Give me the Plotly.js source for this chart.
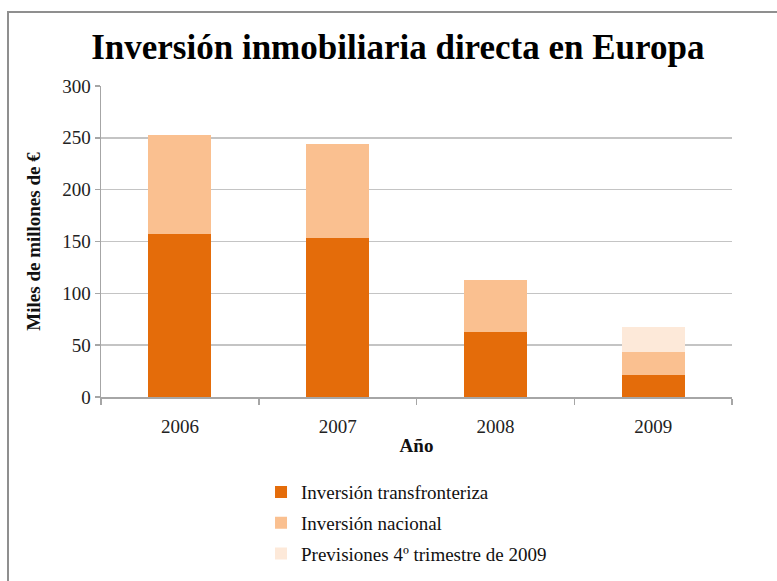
<!DOCTYPE html>
<html>
<head>
<meta charset="utf-8">
<script src="https://cdn.plot.ly/plotly-3.0.1.min.js"></script>
<style>
  html, body { margin: 0; padding: 0; background: #fff; }
  #frame { position: absolute; left: 7px; top: 11px; width: 780px; height: 580px;
           border-left: 2px solid #8f8f8f; border-top: 2px solid #8f8f8f; box-sizing: border-box; }
  #chart { position: absolute; left: 0; top: 0; width: 777px; height: 581px; }
</style>
</head>
<body>
<div id="frame"></div>
<div id="chart"></div>
<script>
const years = ["2006", "2007", "2008", "2009"];
const transfronteriza = [157, 153, 63, 21.5];
const nacional = [96, 91, 50, 22];
const previsiones = [0, 0, 0, 24.5];
const seriesNames = ["Inversión transfronteriza", "Inversión nacional", "Previsiones 4º trimestre de 2009"];
const colors = ["#E46C0A", "#FAC090", "#FDE9D9"];
const yTicks = [0, 50, 100, 150, 200, 250, 300];

const serif = "Liberation Serif, DejaVu Serif, serif";
const seriesValues = [transfronteriza, nacional, previsiones];
const traces = seriesValues.map((vals, i) => ({
  type: "bar",
  name: seriesNames[i],
  x: years,
  y: vals,
  legendgroup: "g" + i,
  marker: { color: colors[i], line: { width: 0 } },
  hoverinfo: "x+y+name"
}));

const layout = {
  width: 777, height: 581,
  paper_bgcolor: "rgba(0,0,0,0)",
  plot_bgcolor: "rgba(0,0,0,0)",
  margin: { l: 101, r: 45, t: 86, b: 184, autoexpand: false },
  barmode: "stack",
  bargap: 0.6,
  font: { family: serif, size: 18, color: "#111" },
  title: {
    text: "<b>Inversión inmobiliaria directa en Europa</b>",
    font: { family: serif, size: 35, color: "#000" },
    x: 0.512, xanchor: "center", xref: "container",
    y: 0.919, yanchor: "middle", yref: "container"
  },
  xaxis: {
    type: "category",
    automargin: false,
    showgrid: false,
    showline: true, linecolor: "#a6a6a6", linewidth: 1.5,
    ticks: "outside", tickson: "boundaries", ticklen: 6, tickcolor: "#a6a6a6", tickwidth: 1.5,
    ticklabelstandoff: 12,
    tickfont: { family: serif, size: 19, color: "#222" },
    tickangle: 0,
    title: { text: "<b>Año</b>", font: { family: serif, size: 19, color: "#111" }, standoff: 2 }
  },
  yaxis: {
    range: [0, 300],
    automargin: false,
    tickvals: yTicks,
    ticksuffix: "\u00a0\u00a0\u00a0",
    showgrid: true, gridcolor: "#c4c4c4", gridwidth: 1.5,
    showline: true, linecolor: "#a6a6a6", linewidth: 1.5,
    zeroline: false,
    ticks: "outside", ticklen: 5, tickcolor: "#a6a6a6", tickwidth: 1.5,
    tickfont: { family: serif, size: 19, color: "#222" },
    title: { text: "<b>Miles de millones de €</b>", font: { family: serif, size: 19, color: "#111" }, standoff: 16 }
  },
  showlegend: true,
  legend: {
    orientation: "v",
    traceorder: "grouped",
    tracegroupgap: 3,
    x: 0.2536, xanchor: "left",
    y: -0.245, yanchor: "top",
    font: { family: serif, size: 19, color: "#111" },
    itemwidth: 30,
    bgcolor: "rgba(0,0,0,0)"
  }
};

Plotly.newPlot("chart", traces, layout, { displayModeBar: false, staticPlot: true });
</script>
</body>
</html>
